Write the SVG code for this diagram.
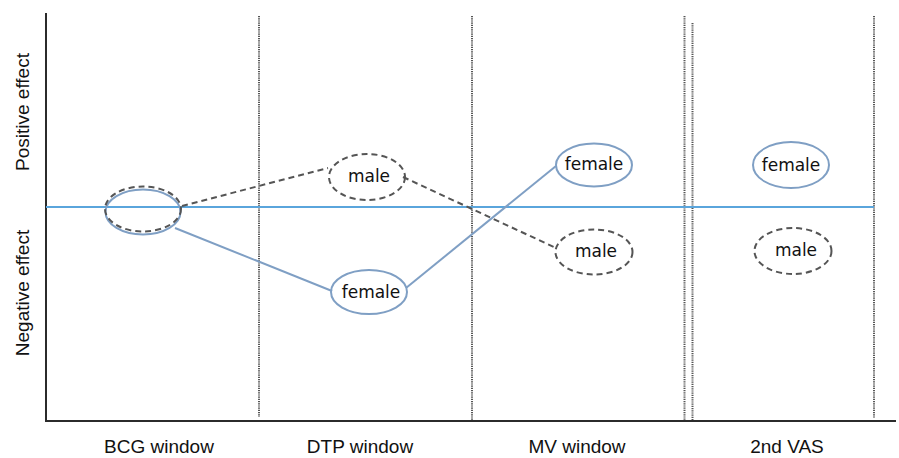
<svg xmlns="http://www.w3.org/2000/svg" width="899" height="458" viewBox="0 0 899 458">
<style>
.ax{stroke:#2b2b2b;stroke-width:2;fill:none}
.dot{stroke:#555;stroke-width:2;stroke-dasharray:1.2 1;fill:none}
.zero{stroke:#5aa5dc;stroke-width:2;fill:none}
.sol{stroke:#7f9fc4;stroke-width:2;fill:none}
.das{stroke:#555;stroke-width:2;stroke-dasharray:6 4;fill:none}
.nt{font-family:"DejaVu Sans",Verdana,sans-serif;font-size:17px;fill:#111;text-anchor:middle}
.lb{font-family:"Liberation Sans",Arial,sans-serif;font-size:19px;fill:#111;text-anchor:middle}
</style>
<rect width="899" height="458" fill="#fff"/>
<g id="axes">
<line class="ax" x1="46" y1="13" x2="46" y2="422"/>
<line class="ax" x1="45" y1="421" x2="896" y2="421"/>
<line class="dot" x1="259" y1="16" x2="259" y2="417"/>
<line class="dot" x1="472" y1="16" x2="472" y2="420"/>
<line class="dot" x1="684.5" y1="16" x2="684.5" y2="420"/>
<line class="dot" x1="692.5" y1="23" x2="692.5" y2="420"/>
<line class="dot" x1="874" y1="16" x2="874" y2="418"/>
<line class="zero" x1="46" y1="207" x2="874" y2="207"/>
</g>
<g id="axis-labels">
<text class="lb" transform="translate(29,112) rotate(-90)">Positive effect</text>
<text class="lb" transform="translate(29,293) rotate(-90)">Negative effect</text>
<text class="lb" x="159" y="453">BCG window</text>
<text class="lb" x="360" y="453">DTP window</text>
<text class="lb" x="577" y="453">MV window</text>
<text class="lb" x="787" y="453">2nd VAS</text>
</g>
<g id="connectors">
<line class="das" x1="182" y1="206" x2="328" y2="168"/>
<line class="das" x1="403" y1="177" x2="556" y2="248"/>
<line class="sol" x1="175" y1="228" x2="332" y2="291"/>
<line class="sol" x1="406" y1="288" x2="556" y2="166"/>
</g>
<g id="start">
<ellipse class="sol" cx="143" cy="212" rx="37.5" ry="22.5"/>
<ellipse class="das" cx="143" cy="209" rx="38" ry="22.5"/>
</g>
<g id="dtp-male">
<ellipse class="das" cx="367" cy="177" rx="38" ry="23"/>
<text class="nt" x="369" y="182">male</text>
</g>
<g id="dtp-female">
<ellipse class="sol" cx="369" cy="292" rx="38" ry="22"/>
<text class="nt" x="371" y="298">female</text>
</g>
<g id="mv-female">
<ellipse class="sol" cx="594" cy="165" rx="38" ry="21.5"/>
<text class="nt" x="594" y="170">female</text>
</g>
<g id="mv-male">
<ellipse class="das" cx="594" cy="252" rx="38.5" ry="22.5"/>
<text class="nt" x="596" y="257">male</text>
</g>
<g id="vas-female">
<ellipse class="sol" cx="791" cy="165" rx="38" ry="23"/>
<text class="nt" x="791" y="171">female</text>
</g>
<g id="vas-male">
<ellipse class="das" cx="793" cy="251" rx="38.5" ry="23"/>
<text class="nt" x="796" y="256">male</text>
</g>
</svg>
